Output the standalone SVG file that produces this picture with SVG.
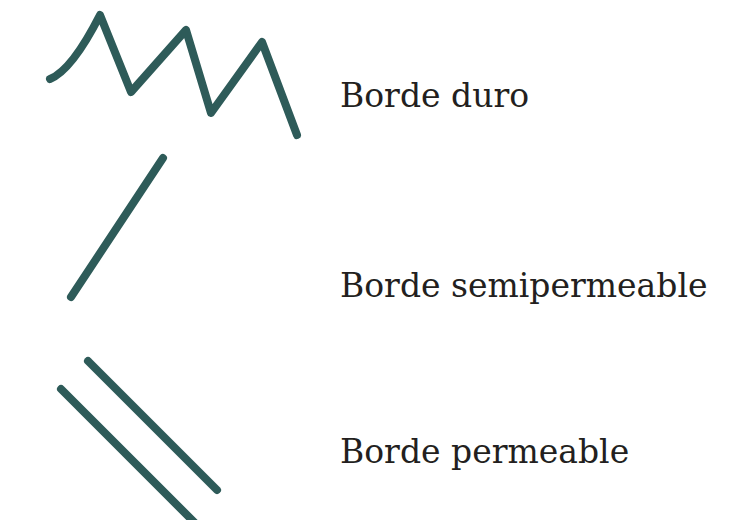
<svg xmlns="http://www.w3.org/2000/svg" width="736" height="520" viewBox="0 0 736 520">
<style>
.ln{fill:none;stroke:#2e5b59;stroke-width:8;stroke-linecap:round;stroke-linejoin:round}
.lb{font-family:"DejaVu Serif","Liberation Serif",serif;font-size:33px;fill:#231f20}
</style>
<rect width="736" height="520" fill="#ffffff"/>
<g id="borde-duro">
<path class="ln" d="M50,79 Q72,70 100,15 L131,92 L186,30 L211,113 L262,42 L297,135"/>
<text class="lb" x="340" y="107">Borde duro</text>
</g>
<g id="borde-semipermeable">
<path class="ln" d="M163,158 L71,297"/>
<text class="lb" x="340" y="297">Borde semipermeable</text>
</g>
<g id="borde-permeable">
<path class="ln" d="M88,361 L217,490"/>
<path class="ln" d="M61,389 L195,523"/>
<text class="lb" x="340" y="463">Borde permeable</text>
</g>
</svg>
